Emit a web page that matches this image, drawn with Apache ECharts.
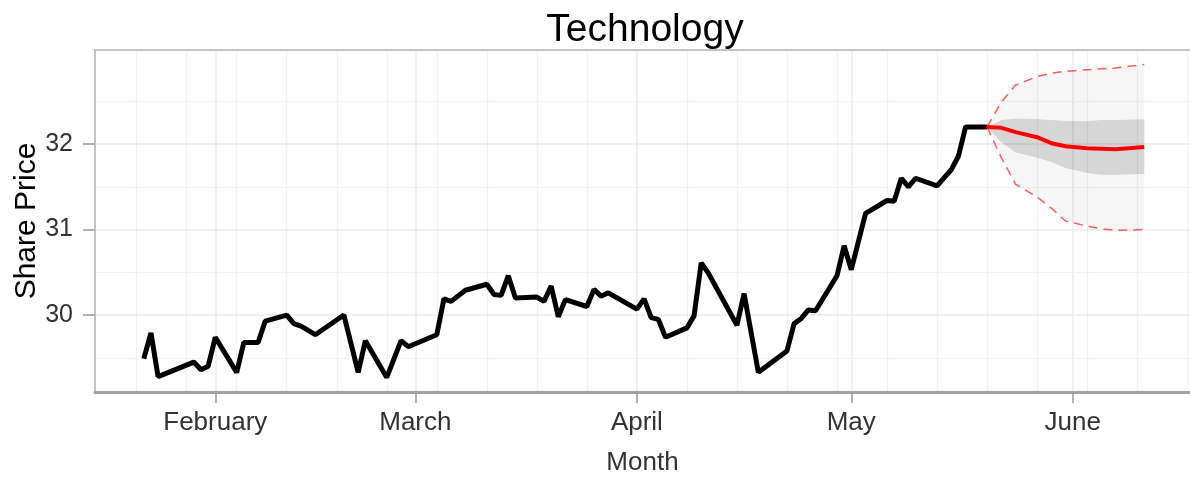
<!DOCTYPE html>
<html><head><meta charset="utf-8">
<script src="https://cdn.jsdelivr.net/npm/echarts@6/dist/echarts.min.js"></script>
<style>html,body{margin:0;padding:0;background:#fff}#c{width:1190px;height:478px}</style>
</head><body><div id="c"></div>
<script>
// ---- data ----
const priceDates = ['2013-01-22','2013-01-23','2013-01-24','2013-01-29','2013-01-30','2013-01-31','2013-02-01','2013-02-04','2013-02-05','2013-02-07','2013-02-08','2013-02-11','2013-02-12','2013-02-13','2013-02-15','2013-02-19','2013-02-21','2013-02-22','2013-02-25','2013-02-27','2013-02-28','2013-03-04','2013-03-05','2013-03-06','2013-03-08','2013-03-11','2013-03-12','2013-03-13','2013-03-14','2013-03-15','2013-03-18','2013-03-19','2013-03-20','2013-03-21','2013-03-22','2013-03-25','2013-03-26','2013-03-27','2013-03-28','2013-04-01','2013-04-02','2013-04-03','2013-04-04','2013-04-05','2013-04-08','2013-04-09','2013-04-10','2013-04-11','2013-04-15','2013-04-16','2013-04-18','2013-04-22','2013-04-23','2013-04-24','2013-04-25','2013-04-26','2013-04-29','2013-04-30','2013-05-01','2013-05-03','2013-05-04','2013-05-06','2013-05-07','2013-05-08','2013-05-09','2013-05-10','2013-05-13','2013-05-15','2013-05-16','2013-05-17','2013-05-20'];
const priceValues = [29.49,29.79,29.28,29.45,29.36,29.40,29.74,29.33,29.68,29.68,29.93,30.00,29.90,29.87,29.77,30.00,29.33,29.70,29.27,29.70,29.63,29.77,30.19,30.16,30.29,30.36,30.24,30.23,30.46,30.20,30.21,30.16,30.34,29.98,30.18,30.10,30.30,30.22,30.26,30.07,30.19,29.97,29.95,29.74,29.85,29.99,30.61,30.49,29.88,30.25,29.33,29.58,29.90,29.96,30.06,30.05,30.46,30.81,30.53,31.19,31.24,31.34,31.33,31.60,31.50,31.60,31.51,31.70,31.86,32.20,32.20];

const forecastDates = ['2013-05-20','2013-05-22','2013-05-24','2013-05-27','2013-05-29','2013-05-31','2013-06-03','2013-06-05','2013-06-07','2013-06-11'];
const forecastMean = [32.20,32.19,32.14,32.08,32.01,31.975,31.95,31.945,31.94,31.965];
const forecastLo80 = [32.20,32.02,31.90,31.84,31.79,31.72,31.66,31.64,31.64,31.65];
const forecastHi80 = [32.20,32.28,32.30,32.29,32.28,32.27,32.27,32.28,32.28,32.29];
const forecastLo95 = [32.20,31.84,31.53,31.38,31.25,31.10,31.04,31.01,30.99,31.00];
const forecastHi95 = [32.20,32.49,32.69,32.79,32.83,32.85,32.87,32.88,32.89,32.93];

const monthTickDates = ['2013-02-01','2013-03-01','2013-04-01','2013-05-01','2013-06-01'];
const monthTickLabels = ['February','March','April','May','June'];
const yTickValues = [30, 31, 32];
const yMinorGrid = [29.5, 30.5, 31.5, 32.5];

// ---- helpers ----
const ORIGIN = Date.UTC(2013, 1, 1);
function dayOf(s) {
  const p = s.split('-').map(Number);
  return (Date.UTC(p[0], p[1] - 1, p[2]) - ORIGIN) / 86400000;
}
const monthTickDays = monthTickDates.map(dayOf);
const weekGridDays = [];
for (let d = dayOf('2013-01-21'); d <= 140; d += 7) weekGridDays.push(d);

const FONT = 'Liberation Sans, Arial, sans-serif';
const priceData = priceDates.map((d, i) => [dayOf(d), priceValues[i]]);
const fcX = forecastDates.map(dayOf);
const pair = arr => fcX.map((x, i) => [x, arr[i]]);

const gridLines = [];
weekGridDays.forEach(d => gridLines.push({ xAxis: d, lineStyle: { color: '#F2F2F2', width: 1.2, type: 'solid' } }));
monthTickDays.forEach(d => gridLines.push({ xAxis: d, lineStyle: { color: '#EBEBEB', width: 1.5, type: 'solid' } }));
yMinorGrid.forEach(v => gridLines.push({ yAxis: v, lineStyle: { color: '#F2F2F2', width: 1.2, type: 'solid' } }));
yTickValues.forEach(v => gridLines.push({ yAxis: v, lineStyle: { color: '#EBEBEB', width: 1.5, type: 'solid' } }));

// band polygon drawn through the axes' scales
function bandSeries(lo, hi, color, z) {
  return {
    type: 'custom', z: z, silent: true,
    data: fcX.map((x, i) => [x, lo[i], hi[i]]),
    encode: { x: 0, y: [1, 2] },
    renderItem: function (params, api) {
      if (params.dataIndex !== 0) return null;
      const pts = [];
      for (let i = 0; i < fcX.length; i++) pts.push(api.coord([fcX[i], hi[i]]));
      for (let i = fcX.length - 1; i >= 0; i--) pts.push(api.coord([fcX[i], lo[i]]));
      return { type: 'polygon', shape: { points: pts }, style: { fill: color } };
    }
  };
}

const chart = echarts.init(document.getElementById('c'), null, { renderer: 'canvas' });
const hidden = { show: false };
chart.setOption({
  animation: false,
  backgroundColor: '#fff',
  textStyle: { fontFamily: FONT },
  title: {
    text: 'Technology', left: 640, textAlign: 'center', top: 6,
    textStyle: { fontSize: 39, fontWeight: 'normal', color: '#000', fontFamily: FONT }
  },
  grid: { left: 95, right: 0, top: 50, bottom: 86, containLabel: false, outerBoundsMode: 'none' },
  xAxis: [{
    type: 'value', min: -16.83, max: 136.4,
    name: 'Month', nameLocation: 'middle', nameGap: 58,
    nameTextStyle: { fontSize: 26, color: '#333', fontFamily: FONT },
    axisLine: { show: true, onZero: false, lineStyle: { color: '#A3A3A3', width: 3 } },
    axisTick: { show: true, customValues: monthTickDays, length: 11, lineStyle: { color: '#999', width: 1.5 } },
    axisLabel: {
      customValues: monthTickDays, margin: 18, fontSize: 26, color: '#333', fontFamily: FONT,
      formatter: v => monthTickLabels[monthTickDays.indexOf(Math.round(v))] || ''
    },
    splitLine: hidden
  }, {
    type: 'value', min: -16.83, max: 136.4, position: 'top',
    axisLine: { show: true, onZero: false, lineStyle: { color: '#C4C4C4', width: 2 } },
    axisTick: hidden, axisLabel: hidden, splitLine: hidden
  }],
  yAxis: {
    type: 'value', min: 29.1, max: 33.1,
    name: 'Share Price', nameLocation: 'middle', nameGap: 53, nameMoveOverlap: false,
    nameTextStyle: { fontSize: 30, color: '#000', fontFamily: FONT },
    axisLine: { show: true, onZero: false, lineStyle: { color: '#C4C4C4', width: 2 } },
    axisTick: { show: true, customValues: yTickValues, length: 12, lineStyle: { color: '#999', width: 1.5 } },
    axisLabel: { customValues: yTickValues, margin: 22, fontSize: 25, color: '#333', fontFamily: FONT },
    splitLine: hidden
  },
  series: [
    { type: 'line', data: [], z: 0, silent: true,
      markLine: { silent: true, z: 0, symbol: ['none', 'none'], label: { show: false }, animation: false, data: gridLines } },
    bandSeries(forecastLo95, forecastHi95, 'rgba(0,0,0,0.035)', 1),
    bandSeries(forecastLo80, forecastHi80, 'rgba(0,0,0,0.13)', 2),
    { type: 'line', data: priceData, symbol: 'none', lineStyle: { color: '#000', width: 5 }, z: 5 },
    { type: 'line', data: pair(forecastHi95), symbol: 'none', lineStyle: { color: 'rgba(255,40,40,0.75)', width: 1.5, type: [9, 6] }, z: 6 },
    { type: 'line', data: pair(forecastLo95), symbol: 'none', lineStyle: { color: 'rgba(255,40,40,0.75)', width: 1.5, type: [9, 6] }, z: 6 },
    { type: 'line', data: pair(forecastMean), symbol: 'none', lineStyle: { color: '#FF0000', width: 4 }, z: 7 }
  ]
});
</script>
</body></html>
